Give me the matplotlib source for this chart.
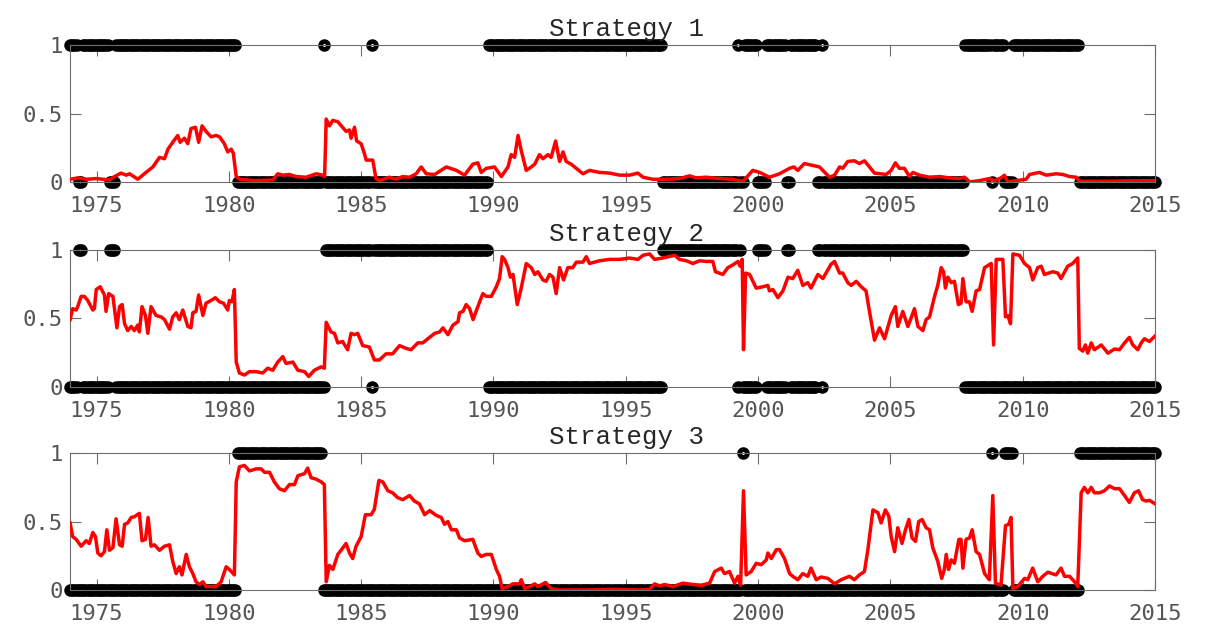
import numpy as np
import matplotlib
matplotlib.use('Agg')
import matplotlib.pyplot as plt

# strategy chosen each month: start of each regime and the strategy number
regime_start = [1974.0, 1974.33, 1974.5, 1975.5, 1975.75, 1980.33, 1983.58, 1983.67,
                1985.42, 1985.5, 1989.83, 1996.42, 1999.25, 1999.33, 1999.42, 1999.5,
                2000.0, 2000.33, 2001.08, 2001.25, 2002.25, 2002.42, 2002.5, 2007.83,
                2008.83, 2008.92, 2009.33, 2009.67, 2012.17]
regime_strategy = [1, 2, 1, 2, 1, 3, 1, 2, 1, 2, 1, 2, 1, 2, 3, 1, 2, 1, 2, 1, 2, 1, 2, 1,
                   3, 1, 3, 1, 3]

# probability of each strategy
s1_years = [1974.0, 1974.3, 1974.6, 1975.0, 1975.49, 1975.68, 1975.93, 1976.12, 1976.25, 1976.56,
            1976.87, 1977.13, 1977.38, 1977.57, 1977.7, 1977.88, 1978.07, 1978.16, 1978.32, 1978.45,
            1978.57, 1978.74, 1978.86, 1978.99, 1979.14, 1979.33, 1979.52, 1979.65, 1979.83, 1979.96,
            1980.09, 1980.17, 1980.28, 1980.4, 1981.0, 1981.66, 1981.85, 1982.04, 1982.29, 1982.54,
            1982.92, 1983.3, 1983.55, 1983.62, 1983.68, 1983.8, 1983.93, 1984.12, 1984.3, 1984.43,
            1984.56, 1984.62, 1984.75, 1984.83, 1985.0, 1985.12, 1985.19, 1985.44, 1985.56, 1985.69,
            1986.07, 1986.32, 1986.57, 1986.83, 1987.08, 1987.27, 1987.46, 1987.78, 1988.22, 1988.6,
            1988.91, 1989.22, 1989.41, 1989.54, 1989.73, 1990.04, 1990.3, 1990.55, 1990.67, 1990.8,
            1990.93, 1991.05, 1991.24, 1991.43, 1991.56, 1991.74, 1991.87, 1992.06, 1992.18, 1992.35,
            1992.5, 1992.63, 1992.75, 1992.94, 1993.13, 1993.38, 1993.63, 1994.01, 1994.39, 1994.77,
            1995.14, 1995.46, 1995.65, 1996.03, 1996.53, 1997.03, 1997.41, 1997.66, 1998.04, 1998.54,
            1999.05, 1999.43, 1999.8, 2000.06, 2000.43, 2000.81, 2001.19, 2001.35, 2001.5, 2001.75,
            2002.32, 2002.7, 2002.89, 2003.08, 2003.2, 2003.39, 2003.64, 2003.83, 2004.02, 2004.21,
            2004.4, 2004.84, 2005.03, 2005.19, 2005.34, 2005.53, 2005.72, 2005.85, 2006.1, 2006.48,
            2006.86, 2007.23, 2007.61, 2007.8, 2007.99, 2008.37, 2008.74, 2008.93, 2009.18, 2009.31,
            2009.44, 2009.75, 2010.13, 2010.26, 2010.63, 2010.89, 2011.26, 2011.52, 2011.77, 2012.02,
            2012.14, 2013.0, 2014.0, 2015.0]
s1_vals = [0.02, 0.03, 0.02, 0.025, 0.015, 0.04, 0.065, 0.05, 0.06, 0.02,
           0.07, 0.11, 0.18, 0.17, 0.24, 0.29, 0.34, 0.29, 0.32, 0.28,
           0.39, 0.40, 0.29, 0.41, 0.37, 0.33, 0.34, 0.33, 0.28, 0.22,
           0.24, 0.21, 0.04, 0.02, 0.01, 0.015, 0.06, 0.05, 0.055, 0.04,
           0.035, 0.06, 0.05, 0.04, 0.46, 0.41, 0.45, 0.44, 0.40, 0.37,
           0.38, 0.32, 0.40, 0.30, 0.28, 0.21, 0.16, 0.16, 0.025, 0.01,
           0.035, 0.02, 0.04, 0.035, 0.06, 0.11, 0.06, 0.055, 0.11, 0.085,
           0.05, 0.13, 0.14, 0.07, 0.10, 0.11, 0.04, 0.11, 0.20, 0.18,
           0.34, 0.23, 0.085, 0.11, 0.13, 0.20, 0.17, 0.20, 0.18, 0.30,
           0.15, 0.22, 0.15, 0.13, 0.10, 0.06, 0.085, 0.07, 0.065, 0.05,
           0.05, 0.065, 0.035, 0.02, 0.02, 0.025, 0.045, 0.03, 0.035, 0.025,
           0.02, 0.005, 0.085, 0.07, 0.035, 0.06, 0.10, 0.11, 0.085, 0.135,
           0.11, 0.035, 0.05, 0.11, 0.10, 0.15, 0.155, 0.135, 0.155, 0.11,
           0.065, 0.055, 0.085, 0.14, 0.10, 0.10, 0.04, 0.07, 0.05, 0.035,
           0.04, 0.03, 0.025, 0.035, 0.0, 0.01, 0.025, 0.01, 0.03, 0.05,
           0.0, 0.01, 0.02, 0.055, 0.07, 0.05, 0.06, 0.055, 0.04, 0.035,
           0.005, 0.005, 0.008, 0.01]

s2_years = [1974.0, 1974.1, 1974.23, 1974.29, 1974.42, 1974.54, 1974.67, 1974.86, 1974.92, 1974.99,
            1975.14, 1975.3, 1975.36, 1975.46, 1975.62, 1975.77, 1975.87, 1975.97, 1976.06, 1976.18,
            1976.31, 1976.43, 1976.56, 1976.62, 1976.72, 1976.85, 1976.94, 1977.06, 1977.25, 1977.44,
            1977.57, 1977.76, 1977.88, 1978.01, 1978.13, 1978.26, 1978.45, 1978.57, 1978.64, 1978.76,
            1978.86, 1979.02, 1979.14, 1979.33, 1979.49, 1979.65, 1979.8, 1979.96, 1980.02, 1980.12,
            1980.21, 1980.28, 1980.4, 1980.59, 1980.78, 1981.03, 1981.28, 1981.47, 1981.66, 1981.85,
            1982.04, 1982.16, 1982.42, 1982.61, 1982.86, 1983.02, 1983.23, 1983.49, 1983.61, 1983.68,
            1983.86, 1983.99, 1984.12, 1984.3, 1984.49, 1984.62, 1984.75, 1984.87, 1985.06, 1985.31,
            1985.5, 1985.69, 1985.94, 1986.19, 1986.45, 1986.7, 1986.89, 1987.14, 1987.33, 1987.52,
            1987.78, 1987.97, 1988.09, 1988.28, 1988.47, 1988.66, 1988.72, 1988.85, 1988.97, 1989.1,
            1989.23, 1989.41, 1989.6, 1989.73, 1989.92, 1990.11, 1990.23, 1990.33, 1990.42, 1990.55,
            1990.64, 1990.74, 1990.9, 1991.05, 1991.24, 1991.43, 1991.56, 1991.68, 1991.87, 1991.99,
            1992.12, 1992.25, 1992.37, 1992.5, 1992.65, 1992.81, 1993.0, 1993.13, 1993.38, 1993.51,
            1993.63, 1994.01, 1994.39, 1994.77, 1995.14, 1995.46, 1995.65, 1995.9, 1996.09, 1996.4,
            1996.85, 1997.03, 1997.29, 1997.54, 1997.79, 1998.04, 1998.29, 1998.39, 1998.67, 1998.86,
            1999.05, 1999.24, 1999.32, 1999.4, 1999.45, 1999.53, 1999.68, 1999.93, 2000.18, 2000.37,
            2000.43, 2000.56, 2000.75, 2000.94, 2001.13, 2001.31, 2001.5, 2001.69, 2001.88, 2002.0,
            2002.26, 2002.45, 2002.76, 2002.89, 2003.08, 2003.2, 2003.39, 2003.52, 2003.71, 2003.9,
            2004.08, 2004.21, 2004.4, 2004.59, 2004.78, 2005.03, 2005.19, 2005.28, 2005.47, 2005.66,
            2005.78, 2005.91, 2006.04, 2006.23, 2006.35, 2006.48, 2006.67, 2006.79, 2006.92, 2007.01,
            2007.08, 2007.17, 2007.3, 2007.42, 2007.57, 2007.67, 2007.74, 2007.86, 2007.99, 2008.09,
            2008.24, 2008.37, 2008.56, 2008.81, 2008.9, 2009.0, 2009.25, 2009.35, 2009.44, 2009.54,
            2009.63, 2009.88, 2010.07, 2010.26, 2010.38, 2010.57, 2010.7, 2010.82, 2011.14, 2011.33,
            2011.45, 2011.7, 2011.89, 2012.08, 2012.14, 2012.27, 2012.37, 2012.46, 2012.59, 2012.71,
            2012.97, 2013.22, 2013.47, 2013.66, 2013.85, 2014.03, 2014.16, 2014.35, 2014.48, 2014.6,
            2014.79, 2015.0]
s2_vals = [0.49, 0.57, 0.56, 0.585, 0.66, 0.66, 0.63, 0.56, 0.57, 0.71,
           0.73, 0.67, 0.55, 0.68, 0.66, 0.43, 0.585, 0.60, 0.46, 0.41,
           0.44, 0.41, 0.45, 0.40, 0.585, 0.52, 0.39, 0.585, 0.52, 0.51,
           0.49, 0.42, 0.51, 0.54, 0.49, 0.56, 0.44, 0.43, 0.54, 0.55,
           0.67, 0.52, 0.61, 0.63, 0.65, 0.62, 0.61, 0.56, 0.63, 0.62,
           0.71, 0.18, 0.10, 0.085, 0.11, 0.11, 0.10, 0.135, 0.12, 0.18,
           0.22, 0.17, 0.18, 0.12, 0.11, 0.075, 0.12, 0.145, 0.135, 0.47,
           0.40, 0.39, 0.32, 0.33, 0.27, 0.39, 0.38, 0.39, 0.30, 0.29,
           0.195, 0.195, 0.24, 0.24, 0.30, 0.28, 0.27, 0.32, 0.32, 0.35,
           0.39, 0.40, 0.43, 0.38, 0.45, 0.475, 0.54, 0.55, 0.60, 0.57,
           0.49, 0.585, 0.68, 0.66, 0.66, 0.73, 0.79, 0.95, 0.93, 0.87,
           0.80, 0.82, 0.60, 0.72, 0.90, 0.87, 0.82, 0.84, 0.78, 0.77,
           0.82, 0.80, 0.68, 0.87, 0.78, 0.87, 0.87, 0.91, 0.91, 0.95,
           0.90, 0.92, 0.93, 0.93, 0.94, 0.93, 0.96, 0.97, 0.93, 0.94,
           0.96, 0.93, 0.92, 0.90, 0.92, 0.915, 0.915, 0.84, 0.82, 0.87,
           0.89, 0.915, 0.88, 0.93, 0.27, 0.83, 0.82, 0.72, 0.73, 0.74,
           0.70, 0.71, 0.65, 0.70, 0.80, 0.79, 0.85, 0.74, 0.76, 0.72,
           0.82, 0.79, 0.895, 0.915, 0.83, 0.83, 0.76, 0.74, 0.77, 0.73,
           0.70, 0.55, 0.34, 0.43, 0.35, 0.52, 0.585, 0.44, 0.55, 0.44,
           0.50, 0.57, 0.44, 0.41, 0.49, 0.51, 0.66, 0.74, 0.87, 0.84,
           0.72, 0.80, 0.76, 0.77, 0.60, 0.61, 0.79, 0.62, 0.62, 0.55,
           0.70, 0.71, 0.87, 0.90, 0.305, 0.93, 0.93, 0.51, 0.52, 0.46,
           0.97, 0.96, 0.90, 0.87, 0.78, 0.87, 0.88, 0.82, 0.84, 0.83,
           0.79, 0.88, 0.90, 0.94, 0.28, 0.26, 0.305, 0.245, 0.32, 0.27,
           0.305, 0.245, 0.275, 0.27, 0.32, 0.36, 0.305, 0.27, 0.32, 0.35,
           0.33, 0.37]

s3_years = [1974.0, 1974.1, 1974.23, 1974.42, 1974.61, 1974.73, 1974.86, 1974.96, 1975.05, 1975.17,
            1975.3, 1975.39, 1975.49, 1975.62, 1975.74, 1975.87, 1975.97, 1976.06, 1976.18, 1976.31,
            1976.43, 1976.62, 1976.72, 1976.85, 1976.95, 1977.06, 1977.19, 1977.38, 1977.57, 1977.76,
            1977.88, 1978.01, 1978.13, 1978.23, 1978.39, 1978.51, 1978.64, 1978.76, 1978.89, 1979.02,
            1979.14, 1979.52, 1979.71, 1979.9, 1980.02, 1980.21, 1980.28, 1980.4, 1980.59, 1980.78,
            1981.03, 1981.22, 1981.35, 1981.54, 1981.72, 1981.91, 1982.1, 1982.29, 1982.48, 1982.61,
            1982.86, 1982.98, 1983.11, 1983.3, 1983.49, 1983.61, 1983.68, 1983.8, 1983.93, 1984.12,
            1984.24, 1984.43, 1984.56, 1984.68, 1984.81, 1985.0, 1985.16, 1985.38, 1985.5, 1985.67,
            1985.82, 1986.01, 1986.19, 1986.38, 1986.57, 1986.83, 1987.01, 1987.2, 1987.4, 1987.59,
            1987.84, 1988.03, 1988.15, 1988.28, 1988.41, 1988.6, 1988.72, 1988.91, 1989.22, 1989.41,
            1989.54, 1989.73, 1989.92, 1990.11, 1990.23, 1990.33, 1990.55, 1990.74, 1990.99, 1991.05,
            1991.18, 1991.37, 1991.56, 1991.68, 1991.97, 1992.18, 1992.5, 1993.5, 1994.5, 1995.5,
            1995.9, 1996.09, 1996.28, 1996.47, 1996.78, 1997.16, 1997.54, 1997.85, 1998.17, 1998.36,
            1998.61, 1998.73, 1998.92, 1999.11, 1999.24, 1999.34, 1999.45, 1999.55, 1999.74, 1999.93,
            2000.12, 2000.31, 2000.37, 2000.5, 2000.69, 2000.81, 2001.0, 2001.19, 2001.31, 2001.5,
            2001.69, 2001.88, 2002.0, 2002.2, 2002.38, 2002.64, 2002.89, 2003.14, 2003.45, 2003.64,
            2003.83, 2004.02, 2004.15, 2004.34, 2004.53, 2004.65, 2004.81, 2004.94, 2005.03, 2005.16,
            2005.28, 2005.44, 2005.57, 2005.7, 2005.82, 2005.95, 2006.07, 2006.2, 2006.35, 2006.48,
            2006.6, 2006.79, 2006.94, 2007.04, 2007.11, 2007.2, 2007.3, 2007.42, 2007.59, 2007.67,
            2007.74, 2007.86, 2007.99, 2008.09, 2008.24, 2008.37, 2008.56, 2008.74, 2008.87, 2008.97,
            2009.18, 2009.35, 2009.47, 2009.56, 2009.63, 2009.81, 2010.07, 2010.19, 2010.38, 2010.57,
            2010.76, 2010.95, 2011.26, 2011.45, 2011.58, 2011.77, 2011.96, 2012.08, 2012.21, 2012.33,
            2012.46, 2012.59, 2012.71, 2012.9, 2013.09, 2013.28, 2013.47, 2013.66, 2013.85, 2014.03,
            2014.22, 2014.38, 2014.53, 2014.66, 2014.79, 2015.0]
s3_vals = [0.49, 0.39, 0.37, 0.32, 0.36, 0.34, 0.42, 0.39, 0.27, 0.25,
           0.28, 0.44, 0.29, 0.31, 0.52, 0.33, 0.32, 0.48, 0.49, 0.53,
           0.535, 0.56, 0.36, 0.37, 0.53, 0.32, 0.33, 0.29, 0.32, 0.33,
           0.21, 0.12, 0.17, 0.11, 0.26, 0.17, 0.12, 0.06, 0.04, 0.06,
           0.025, 0.025, 0.06, 0.17, 0.15, 0.11, 0.79, 0.90, 0.91, 0.87,
           0.885, 0.885, 0.86, 0.86, 0.79, 0.74, 0.725, 0.77, 0.77, 0.835,
           0.85, 0.89, 0.82, 0.81, 0.79, 0.77, 0.06, 0.18, 0.15, 0.26,
           0.29, 0.34, 0.27, 0.23, 0.32, 0.39, 0.55, 0.55, 0.59, 0.80,
           0.79, 0.725, 0.71, 0.675, 0.66, 0.69, 0.65, 0.63, 0.55, 0.58,
           0.545, 0.53, 0.48, 0.50, 0.44, 0.44, 0.38, 0.36, 0.37, 0.27,
           0.245, 0.26, 0.26, 0.15, 0.10, 0.01, 0.025, 0.045, 0.045, 0.075,
           0.01, 0.025, 0.045, 0.025, 0.055, 0.01, 0.0, 0.0, 0.005, 0.0,
           0.005, 0.045, 0.03, 0.04, 0.025, 0.05, 0.04, 0.035, 0.05, 0.135,
           0.16, 0.12, 0.135, 0.05, 0.10, 0.035, 0.725, 0.11, 0.135, 0.195,
           0.185, 0.22, 0.27, 0.23, 0.295, 0.295, 0.23, 0.12, 0.10, 0.075,
           0.12, 0.10, 0.16, 0.075, 0.095, 0.085, 0.045, 0.075, 0.10, 0.075,
           0.11, 0.135, 0.295, 0.585, 0.565, 0.49, 0.585, 0.54, 0.39, 0.28,
           0.455, 0.34, 0.44, 0.515, 0.38, 0.355, 0.50, 0.515, 0.455, 0.44,
           0.31, 0.21, 0.085, 0.15, 0.26, 0.15, 0.22, 0.195, 0.37, 0.37,
           0.16, 0.37, 0.38, 0.44, 0.28, 0.26, 0.12, 0.075, 0.69, 0.05,
           0.035, 0.47, 0.48, 0.53, 0.01, 0.025, 0.085, 0.075, 0.16, 0.06,
           0.10, 0.13, 0.11, 0.16, 0.10, 0.10, 0.06, 0.025, 0.71, 0.75,
           0.71, 0.75, 0.71, 0.71, 0.725, 0.76, 0.74, 0.74, 0.69, 0.64,
           0.71, 0.725, 0.66, 0.65, 0.655, 0.63]

titles = ['Strategy 1', 'Strategy 2', 'Strategy 3']
xticks = [1975, 1980, 1985, 1990, 1995, 2000, 2005, 2010, 2015]
yticks = [0, 0.5, 1]
yticklabels = ['0', '0.5', '1']

# monthly dates and which strategy is held each month
t = 1974 + np.arange(493) / 12.0
idx = np.searchsorted(regime_start, t + 0.02, side='right') - 1
state = np.array(regime_strategy)[idx]

probs = [(s1_years, s1_vals), (s2_years, s2_vals), (s3_years, s3_vals)]

fig = plt.figure(figsize=(12.14, 6.25), dpi=100)
bottoms = [0.7088, 0.3813, 0.056]
grey = '#6e6e6e'

for k in range(3):
    ax = fig.add_axes([0.0577, bottoms[k], 0.8937, 0.219])
    ind = (state == k + 1).astype(float)
    ax.plot(t, ind, 'o', color='k', mfc='none', ms=5.6, mew=3.4, clip_on=False, zorder=2)
    ax.plot(probs[k][0], probs[k][1], color='#ff0000', linewidth=2.5, zorder=3)

    ax.set_xlim(1974, 2015)
    ax.set_ylim(0, 1)
    ax.set_xticks(xticks)
    ax.set_yticks(yticks)
    ax.set_yticklabels(yticklabels)
    ax.tick_params(direction='in', length=8, width=0.8, color=grey,
                   top=True, right=True, labelsize=16, labelcolor='#555555')
    ax.tick_params(axis='x', pad=10)
    ax.tick_params(axis='y', pad=5)
    for lab in ax.get_xticklabels() + ax.get_yticklabels():
        lab.set_family('DejaVu Sans Mono')
    for sp in ax.spines.values():
        sp.set_color(grey)
        sp.set_linewidth(0.8)
    ax.set_title(titles[k], x=0.513, y=1.065, pad=0, fontsize=18.5,
                 family='Liberation Mono', color='#262626')

fig.savefig('out.png', dpi=100)
